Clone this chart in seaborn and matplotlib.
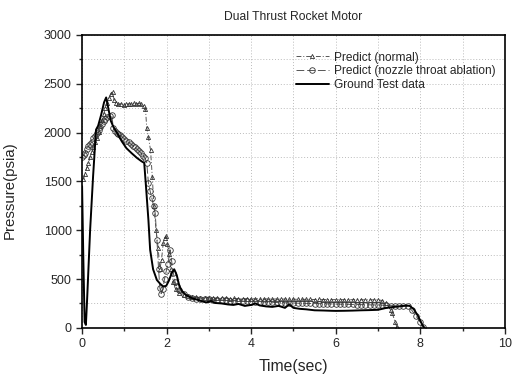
import numpy as np
import pandas as pd
import matplotlib
matplotlib.use("Agg")
import matplotlib.pyplot as plt
import seaborn as sns
from matplotlib.ticker import MultipleLocator

# Ground test data (solid line)
t_ground = [0.00, 0.03, 0.06, 0.09, 0.12, 0.19, 0.26, 0.33, 0.38, 0.45, 0.52, 0.57,
            0.62, 0.68, 0.74, 0.85, 0.94, 1.05, 1.17, 1.30, 1.41, 1.47, 1.52, 1.57,
            1.61, 1.68, 1.77, 1.85, 1.92, 1.99, 2.05, 2.12, 2.18, 2.24, 2.30, 2.36,
            2.45, 2.55, 2.63, 2.75, 2.85, 2.95, 3.05, 3.15, 3.30, 3.45, 3.58, 3.70,
            3.85, 4.00, 4.10, 4.20, 4.35, 4.50, 4.65, 4.80, 4.90, 5.00, 5.15, 5.30,
            5.50, 5.70, 5.90, 6.00, 6.20, 6.40, 6.60, 6.80, 7.00, 7.20, 7.32, 7.50,
            7.65, 7.75, 7.85, 7.95, 8.05, 8.10]
p_ground = [1450, 700, 60, 30, 300, 1000, 1550, 2030, 2070, 2180, 2310, 2360,
            2250, 2120, 2060, 1980, 1910, 1840, 1790, 1740, 1705, 1690, 1400, 1100,
            800, 600, 490, 450, 425, 430, 480, 560, 600, 540, 430, 380,
            340, 315, 300, 285, 270, 260, 275, 255, 250, 240, 235, 245,
            225, 235, 250, 230, 220, 215, 225, 205, 240, 205, 195, 190,
            180, 178, 175, 174, 175, 177, 180, 182, 185, 205, 212, 220,
            228, 225, 190, 120, 30, 0]

# Predict (normal) - triangles
t_normal = [0.03, 0.07, 0.11, 0.15, 0.19, 0.23, 0.27, 0.31, 0.35, 0.39, 0.43, 0.47,
            0.51, 0.55, 0.59, 0.63, 0.68, 0.72, 0.76, 0.80, 0.86, 0.92, 0.98, 1.04,
            1.10, 1.16, 1.22, 1.28, 1.34, 1.40, 1.46, 1.50, 1.53, 1.57, 1.62, 1.66,
            1.70, 1.75, 1.80, 1.84, 1.88, 1.92, 1.96, 1.99, 2.02, 2.05, 2.10, 2.16,
            2.22, 2.30, 2.40, 2.50,
            2.6, 2.7, 2.8, 2.9, 3.0, 3.1, 3.2, 3.3, 3.4, 3.5, 3.6, 3.7, 3.8, 3.9,
            4.0, 4.1, 4.2, 4.3, 4.4, 4.5, 4.6, 4.7, 4.8, 4.9, 5.0, 5.1, 5.2, 5.3,
            5.4, 5.5, 5.6, 5.7, 5.8, 5.9, 6.0, 6.1, 6.2, 6.3, 6.4, 6.5, 6.6, 6.7,
            6.8, 6.9, 7.0, 7.1, 7.2, 7.3, 7.34, 7.40, 7.45]
p_normal = [1520, 1580, 1640, 1690, 1750, 1805, 1850, 1900, 1945, 2010, 2070, 2130,
            2190, 2250, 2300, 2350, 2400, 2420, 2330, 2300, 2290, 2295, 2285, 2290,
            2295, 2290, 2300, 2295, 2300, 2290, 2270, 2240, 2050, 1950, 1820, 1550,
            1250, 1000, 820, 600, 700, 870, 920, 940, 860, 760, 600, 470,
            400, 360, 340, 325,
            318, 312, 310, 308, 310, 306, 305, 303, 304, 300, 301, 299, 300, 298,
            300, 297, 298, 296, 297, 295, 296, 294, 295, 293, 294, 292, 293, 291,
            292, 290, 291, 290, 290, 289, 290, 289, 289, 288, 289, 288, 288, 287,
            288, 287, 287, 280, 250, 180, 150, 65, 7]

# Predict (nozzle throat ablation) - circles
t_ablation = [0.00, 0.04, 0.07, 0.11, 0.15, 0.19, 0.23, 0.27, 0.31, 0.35, 0.39, 0.43,
              0.47, 0.51, 0.55, 0.60, 0.65, 0.70, 0.74, 0.78, 0.82, 0.86, 0.90, 0.95,
              1.00, 1.05, 1.10, 1.15, 1.20, 1.25, 1.30, 1.35, 1.40, 1.45, 1.49, 1.53,
              1.57, 1.61, 1.65, 1.69, 1.73, 1.77, 1.81, 1.84, 1.87, 1.91, 1.95, 1.99,
              2.03, 2.08, 2.12, 2.16, 2.20, 2.24, 2.30, 2.40, 2.50,
              2.6, 2.7, 2.8, 2.9, 3.0, 3.1, 3.2, 3.3, 3.4, 3.5, 3.6, 3.7, 3.8, 3.9,
              4.0, 4.1, 4.2, 4.3, 4.4, 4.5, 4.6, 4.7, 4.8, 4.9, 5.0, 5.1, 5.2, 5.3,
              5.4, 5.5, 5.6, 5.7, 5.8, 5.9, 6.0, 6.1, 6.2, 6.3, 6.4, 6.5, 6.6, 6.7,
              6.8, 6.9, 7.0, 7.1, 7.2, 7.3, 7.4, 7.5, 7.6, 7.7, 7.8, 7.9, 8.0, 8.07]
p_ablation = [1750, 1770, 1790, 1830, 1860, 1880, 1905, 1940, 1970, 2000, 2030, 2060,
              2090, 2120, 2140, 2160, 2175, 2180, 2050, 2020, 2000, 1985, 1975, 1955,
              1935, 1915, 1900, 1885, 1865, 1850, 1830, 1810, 1790, 1765, 1737, 1690,
              1480, 1400, 1330, 1250, 1175, 900, 600, 410, 350, 400, 500, 580,
              650, 800, 680, 560, 470, 430, 390, 350, 320,
              305, 300, 298, 295, 296, 290, 288, 285, 283, 280, 278, 276, 274, 272,
              270, 268, 266, 265, 263, 262, 260, 258, 257, 256, 255, 253, 252, 251,
              250, 249, 248, 247, 246, 245, 244, 243, 242, 241, 240, 239, 238, 237,
              236, 235, 235, 233, 230, 228, 226, 224, 222, 220, 180, 120, 60, 10]

sns.set_style("ticks")
plt.rcParams['font.family'] = ['Liberation Sans', 'DejaVu Sans']

fig, ax = plt.subplots(figsize=(5.13, 3.76), dpi=100)
fig.subplots_adjust(left=0.16, right=0.984, bottom=0.128, top=0.907)

sns.lineplot(x=t_normal, y=p_normal, sort=False, estimator=None, ax=ax,
             color="#555555", linewidth=0.7, linestyle=(0, (5, 2, 1, 2)),
             marker="^", markersize=3, markerfacecolor="none",
             markeredgecolor="#333333", markeredgewidth=0.6,
             label="Predict (normal)")
sns.lineplot(x=t_ablation, y=p_ablation, sort=False, estimator=None, ax=ax,
             color="#555555", linewidth=0.7, linestyle=(0, (8, 3)),
             marker="o", markersize=4, markerfacecolor="none",
             markeredgecolor="#333333", markeredgewidth=0.6,
             label="Predict (nozzle throat ablation)")
sns.lineplot(x=t_ground, y=p_ground, sort=False, estimator=None, ax=ax,
             color="black", linewidth=1.4, label="Ground Test data")

ax.set_xlim(0, 10)
ax.set_ylim(0, 3000)
ax.xaxis.set_major_locator(MultipleLocator(2))
ax.xaxis.set_minor_locator(MultipleLocator(1))
ax.yaxis.set_major_locator(MultipleLocator(500))
ax.yaxis.set_minor_locator(MultipleLocator(250))
ax.grid(which="both", color="#bbbbbb", linestyle=(0, (1, 2)), linewidth=0.7)
ax.tick_params(which="major", length=4, width=1, labelsize=9, direction="out")
ax.tick_params(which="minor", length=2.5, width=1, direction="out")
for s in ax.spines.values():
    s.set_linewidth(1.2)
    s.set_color("black")

ax.set_title("Dual Thrust Rocket Motor", fontsize=8.7, pad=11)
ax.set_xlabel("Time(sec)", fontsize=11.3, labelpad=6)
ax.set_ylabel("Pressure(psia)", fontsize=10.8)
ax.yaxis.set_label_coords(-0.155, 0.47)

ax.legend(loc="upper left", bbox_to_anchor=(0.48, 0.98), frameon=False,
          fontsize=8.6, handlelength=2.8, labelspacing=0.15, handletextpad=0.4)

plt.savefig("out.png", dpi=100)
